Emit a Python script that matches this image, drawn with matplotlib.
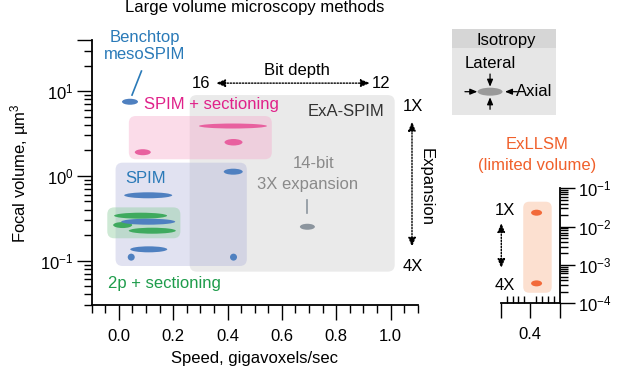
import numpy as np
import matplotlib
matplotlib.use("Agg")
import matplotlib.pyplot as plt
from matplotlib.collections import EllipseCollection
from matplotlib.patches import FancyBboxPatch, Rectangle, Ellipse
from matplotlib.transforms import IdentityTransform
from matplotlib.ticker import MultipleLocator, FixedLocator, FixedFormatter, LogLocator, NullFormatter, FormatStrFormatter

plt.rcParams['font.family'] = ['Liberation Sans', 'DejaVu Sans']
plt.rcParams['mathtext.fontset'] = 'custom'
plt.rcParams['mathtext.rm'] = 'Liberation Sans'
plt.rcParams['mathtext.default'] = 'regular'

# ---------------- data ----------------
# speed (gigavoxels/s), focal volume (um^3), ellipse extents (px)
pink_x = [0.420, 0.422, 0.088]
pink_y = [3.87, 2.49, 1.90]
pink_w = [68, 18, 16]
pink_h = [5, 6.5, 6]

green_x = [0.080, 0.014, 0.123]
green_y = [0.339, 0.263, 0.2255]
green_w = [53, 19, 47]
green_h = [6, 6, 6]

blue_x = [0.041, 0.421, 0.108, 0.108, 0.110, 0.0455, 0.422]
blue_y = [7.48, 1.12, 0.59, 0.288, 0.136, 0.110, 0.110]
blue_w = [16, 19, 48, 54, 37, 7, 7]
blue_h = [6, 6, 6, 6, 6, 7, 7]

exa_x = [0.694]
exa_y = [0.251]
exa_w = [15]
exa_h = [6]

exllsm_x = [0.421, 0.421]
exllsm_y = [0.0231, 3.31e-4]
exllsm_w = [11, 11]
exllsm_h = [6, 6]

# shaded regions: (x0, x1, y0, y1)
region_gray = (0.2606, 1.0154, 0.0742, 8.97)
region_pink = (0.0367, 0.563, 1.57, 5.08)
region_blue = (-0.0121, 0.471, 0.0865, 1.43)
region_green = (-0.0426, 0.2264, 0.1836, 0.425)
region_orange = (0.376, 0.472, 1.88e-4, 0.0447)

x_ticks = [0.0, 0.2, 0.4, 0.6, 0.8, 1.0]
y_ticks = [0.1, 1, 10, 40]
y_ticklabels = ['$10^{-1}$', '$10^{0}$', '$10^{1}$', '']
inset_yticks = [1e-4, 1e-3, 1e-2, 1e-1]
inset_yticklabels = ['$10^{-4}$', '$10^{-3}$', '$10^{-2}$', '$10^{-1}$']

# ---------------- colours ----------------
C_BLUE = '#4f80c0'
C_PINK = '#e8609f'
C_GREEN = '#3faa5e'
C_GRAY = '#8c959e'
C_ORANGE = '#f26a3a'
T_BLUE = '#2a7ab8'
T_PINK = '#e0218a'
T_GREEN = '#1e9c4b'
T_GRAY = '#8a8a8a'
T_ORANGE = '#f0602b'

W, H = 617, 371
fig = plt.figure(figsize=(W / 100, H / 100), dpi=100)

def fig_rect(l, t, r, b):
    return [l / W, 1 - b / H, (r - l) / W, (b - t) / H]

FS = 12
TICK_W = 1.0

# ---------------- main axes ----------------
ax = fig.add_axes(fig_rect(91.7, 40, 417.7, 305))
ax.set_yscale('log')
ax.set_xlim(-0.1, 1.1)
ax.set_ylim(0.03, 40)
for s in ['top', 'right']:
    ax.spines[s].set_visible(False)
for s in ['left', 'bottom']:
    ax.spines[s].set_linewidth(1.3)

ax.xaxis.set_major_locator(FixedLocator(x_ticks))
ax.xaxis.set_major_formatter(FormatStrFormatter('%.1f'))
ax.xaxis.set_minor_locator(MultipleLocator(0.05))
ax.yaxis.set_major_locator(FixedLocator(y_ticks))
ax.yaxis.set_major_formatter(FixedFormatter(y_ticklabels))
ax.yaxis.set_minor_locator(LogLocator(base=10, subs=np.arange(2, 10)))
ax.yaxis.set_minor_formatter(NullFormatter())
ax.tick_params(which='major', length=11, width=TICK_W, labelsize=FS, direction='out')
ax.tick_params(which='minor', length=5.5, width=TICK_W, direction='out')
ax.tick_params(axis='x', which='major', pad=6)
ax.tick_params(axis='y', which='major', pad=2)

ax.set_title('Large volume microscopy methods', fontsize=FS, pad=20)
ax.set_xlabel('Speed, gigavoxels/sec', fontsize=FS, labelpad=5)
fig.text(20 / W, 1 - 173 / H, 'Focal volume, µm$^3$', rotation=90,
         ha='center', va='center', fontsize=FS)


def rrect(a, region, color, alpha, r=7, z=1):
    x0, x1, y0, y1 = region
    X0, Y0 = a.transData.transform((x0, y0))
    X1, Y1 = a.transData.transform((x1, y1))
    p = FancyBboxPatch((X0, Y0), X1 - X0, Y1 - Y0,
                       boxstyle=f"round,pad=0,rounding_size={r}",
                       transform=IdentityTransform(), fc=color, alpha=alpha,
                       ec='none', zorder=z)
    a.add_patch(p)


def ellipses(a, xs, ys, ws, hs, color, z=3):
    ec = EllipseCollection(ws, hs, np.zeros(len(xs)), units='dots',
                           offsets=np.column_stack([xs, ys]),
                           offset_transform=a.transData,
                           facecolors=color, edgecolors='none', zorder=z)
    a.add_collection(ec)


rrect(ax, region_gray, '#d6d6d6', 0.5)
rrect(ax, region_pink, '#f6a8ca', 0.4)
rrect(ax, region_blue, '#a9acd8', 0.35)
rrect(ax, region_green, '#93cfa2', 0.45)

ellipses(ax, pink_x, pink_y, pink_w, pink_h, C_PINK)
ellipses(ax, green_x[:2], green_y[:2], green_w[:2], green_h[:2], C_GREEN, z=3)
ellipses(ax, blue_x, blue_y, blue_w, blue_h, C_BLUE, z=4)
ellipses(ax, green_x[2:], green_y[2:], green_w[2:], green_h[2:], C_GREEN, z=5)
ellipses(ax, exa_x, exa_y, exa_w, exa_h, C_GRAY)

# labels
ax.text(0.094, 34, 'Benchtop\nmesoSPIM', color=T_BLUE, fontsize=FS, ha='center',
        va='center', linespacing=1.15, clip_on=False)
ax.plot([0.0831, 0.0484], [17.2, 8.97], color=T_BLUE, lw=1.2)
ax.text(0.340, 6.85, 'SPIM + sectioning', color=T_PINK, fontsize=FS, ha='center', va='center')
ax.text(0.098, 0.943, 'SPIM', color=T_BLUE, fontsize=FS, ha='center', va='center')
ax.text(0.1666, 0.054, '2p + sectioning', color=T_GREEN, fontsize=FS, ha='center', va='center')
ax.text(0.837, 5.71, 'ExA-SPIM', color='#333333', fontsize=FS, ha='center', va='center')
ax.text(0.717, 1.41, '14-bit', color=T_GRAY, fontsize=FS, ha='center', va='center')
ax.text(0.694, 0.80, '3X expansion', color=T_GRAY, fontsize=FS, ha='center', va='center')
ax.plot([0.6925, 0.6925], [0.519, 0.365], color=C_GRAY, lw=1.2)

arrow_kw = dict(arrowstyle='<|-|>,head_length=0.6,head_width=0.25', linestyle=(0, (1, 1.2)),
                lw=1.0, color='black', shrinkA=0, shrinkB=0, mutation_scale=9)
ax.annotate('', xy=(0.924, 12.4), xytext=(0.358, 12.4), arrowprops=arrow_kw,
            annotation_clip=False)
ax.text(0.303, 12.4, '16', fontsize=FS, ha='center', va='center')
ax.text(0.964, 12.4, '12', fontsize=FS, ha='center', va='center', clip_on=False)
ax.text(0.655, 17.7, 'Bit depth', fontsize=FS, ha='center', va='center')

ax.annotate('', xy=(1.079, 0.146), xytext=(1.079, 4.35), arrowprops=arrow_kw,
            annotation_clip=False)
ax.text(1.082, 6.5, '1X', fontsize=FS, ha='center', va='center', clip_on=False)
ax.text(1.082, 0.085, '4X', fontsize=FS, ha='center', va='center', clip_on=False)
ax.text(1.132, 0.745, 'Expansion', fontsize=FS, ha='center', va='center',
        rotation=270, clip_on=False)

# ---------------- isotropy legend ----------------
lg = fig.add_axes(fig_rect(452.3, 29.3, 556, 115))
lg.set_xlim(0, 1)
lg.set_ylim(0, 1)
lg.axis('off')
lg.add_patch(Rectangle((0, 0), 1, 0.778, fc='#e6e6e6', ec='none'))
lg.add_patch(Rectangle((0, 0.778), 1, 0.222, fc='#d6d6d6', ec='none'))
lg.text(0.525, 0.875, 'Isotropy', fontsize=FS, ha='center', va='center')
lg.text(0.364, 0.603, 'Lateral', fontsize=FS, ha='center', va='center')
lg.add_patch(Ellipse((0.364, 0.272), 0.241, 0.093, fc='#9a9a9a', ec='none'))
small_kw = dict(arrowstyle='-|>,head_length=0.6,head_width=0.25', lw=0.9, color='black',
                shrinkA=0, shrinkB=0, mutation_scale=7)
lg.annotate('', xy=(0.364, 0.330), xytext=(0.364, 0.478), arrowprops=small_kw)
lg.annotate('', xy=(0.364, 0.2065), xytext=(0.364, 0.0665), arrowprops=small_kw)
lg.annotate('', xy=(0.241, 0.272), xytext=(0.122, 0.272), arrowprops=small_kw)
lg.annotate('', xy=(0.508, 0.272), xytext=(0.627, 0.272), arrowprops=small_kw)
lg.text(0.615, 0.272, 'Axial', fontsize=FS, ha='left', va='center')

# ---------------- ExLLSM inset ----------------
ax2 = fig.add_axes(fig_rect(500.7, 188.3, 560, 303.3))
ax2.set_yscale('log')
ax2.set_xlim(0.3, 0.5)
ax2.set_ylim(1e-4, 1e-1)
ax2.spines['top'].set_visible(False)
ax2.spines['left'].set_visible(False)
for s in ['right', 'bottom']:
    ax2.spines[s].set_linewidth(1.3)
ax2.yaxis.tick_right()
ax2.yaxis.set_major_locator(FixedLocator(inset_yticks))
ax2.yaxis.set_major_formatter(FixedFormatter(inset_yticklabels))
ax2.yaxis.set_minor_locator(LogLocator(base=10, subs=np.arange(2, 10)))
ax2.yaxis.set_minor_formatter(NullFormatter())
ax2.xaxis.set_major_locator(FixedLocator([0.3, 0.4, 0.5]))
ax2.xaxis.set_major_formatter(FixedFormatter(['', '0.4', '']))
ax2.xaxis.set_minor_locator(MultipleLocator(0.02))
ax2.tick_params(axis='y', which='major', length=11, width=TICK_W, labelsize=FS, pad=2, direction='out')
ax2.tick_params(axis='y', which='minor', length=5.5, width=TICK_W, direction='out')
ax2.tick_params(axis='x', which='major', length=11, width=TICK_W, labelsize=FS, pad=6, direction='out')
ax2.tick_params(axis='x', which='minor', length=5, width=TICK_W, direction='in')

rrect(ax2, region_orange, '#fbd3bd', 0.7, r=6)
ellipses(ax2, exllsm_x, exllsm_y, exllsm_w, exllsm_h, C_ORANGE)
ax2.text(0.4214, 1.35, 'ExLLSM', color=T_ORANGE, fontsize=FS, ha='center', va='center', clip_on=False)
ax2.text(0.4214, 0.40, '(limited volume)', color=T_ORANGE, fontsize=FS, ha='center', va='center', clip_on=False)
ax2.text(0.3145, 0.0271, '1X', fontsize=FS, ha='center', va='center', clip_on=False)
ax2.text(0.3145, 3.0e-4, '4X', fontsize=FS, ha='center', va='center', clip_on=False)
ax2.annotate('', xy=(0.302, 8.3e-4), xytext=(0.302, 0.0124), arrowprops=arrow_kw,
             annotation_clip=False)

fig.savefig('out.png', dpi=100)
